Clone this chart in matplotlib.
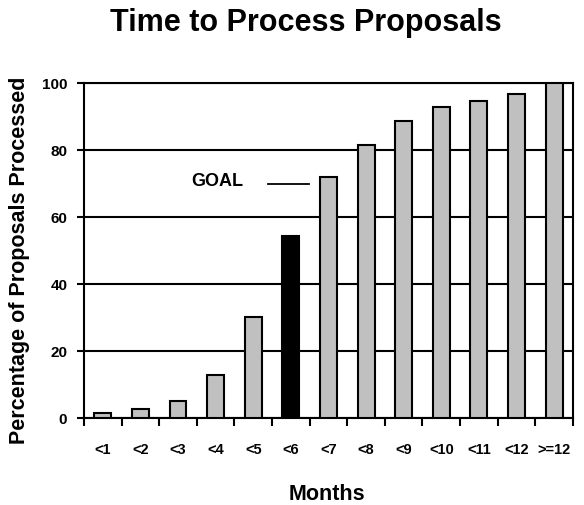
import matplotlib
matplotlib.use("Agg")
import matplotlib.pyplot as plt
import numpy as np

# months to process and cumulative percentage of proposals done
months = ["<1", "<2", "<3", "<4", "<5", "<6", "<7", "<8", "<9", "<10", "<11", "<12", ">=12"]
percent = [1.7, 2.9, 5.3, 12.9, 30.3, 54.3, 72.1, 81.7, 88.8, 93.0, 94.8, 96.7, 100.0]
goal_month = "<6"
goal_level = 70

plt.rcParams["font.family"] = ["Liberation Sans", "DejaVu Sans"]
plt.rcParams["font.weight"] = "bold"

fig = plt.figure(figsize=(5.84, 5.05), dpi=100)
ax = fig.add_axes([0.1438, 0.1717, 0.8372, 0.6633])

x = np.arange(len(months))
colors = ["black" if m == goal_month else "#c0c0c0" for m in months]
ax.bar(x, percent, width=0.45, color=colors, edgecolor="black", linewidth=1.5, zorder=3)

ax.set_xlim(-0.5, len(months) - 0.5)
ax.set_ylim(0, 100)

# horizontal gridlines
ax.set_yticks([0, 20, 40, 60, 80, 100])
ax.yaxis.grid(True, color="black", linewidth=1.5, zorder=0)
ax.tick_params(axis="y", direction="out", length=5, width=1.5, pad=7, labelsize=11)

# ticks between categories, labels at centres
ax.set_xticks(np.arange(-0.5, len(months), 1.0))
ax.set_xticklabels([])
ax.tick_params(axis="x", which="major", direction="out", length=6, width=1.5)
ax.set_xticks(x, minor=True)
ax.set_xticklabels(months, minor=True, fontsize=10.5)
ax.tick_params(axis="x", which="minor", length=0, pad=18)

for s in ax.spines.values():
    s.set_linewidth(1.5)

# goal marker
ax.text(3.05, goal_level + 0.7, "GOAL", ha="center", va="center", fontsize=13, fontweight="bold")
ax.plot([4.39, 5.48], [goal_level, goal_level], color="black", linewidth=1.3, zorder=3)

fig.text(0.524, 0.955, "Time to Process Proposals", ha="center", va="center",
         fontsize=22, fontweight="bold")
fig.text(0.033, 0.485, "Percentage of Proposals Processed", ha="center", va="center",
         rotation=90, fontsize=15.5, fontweight="bold")
fig.text(0.56, 0.02, "Months", ha="center", va="center", fontsize=15.5, fontweight="bold")

fig.savefig("out.png", dpi=100)
